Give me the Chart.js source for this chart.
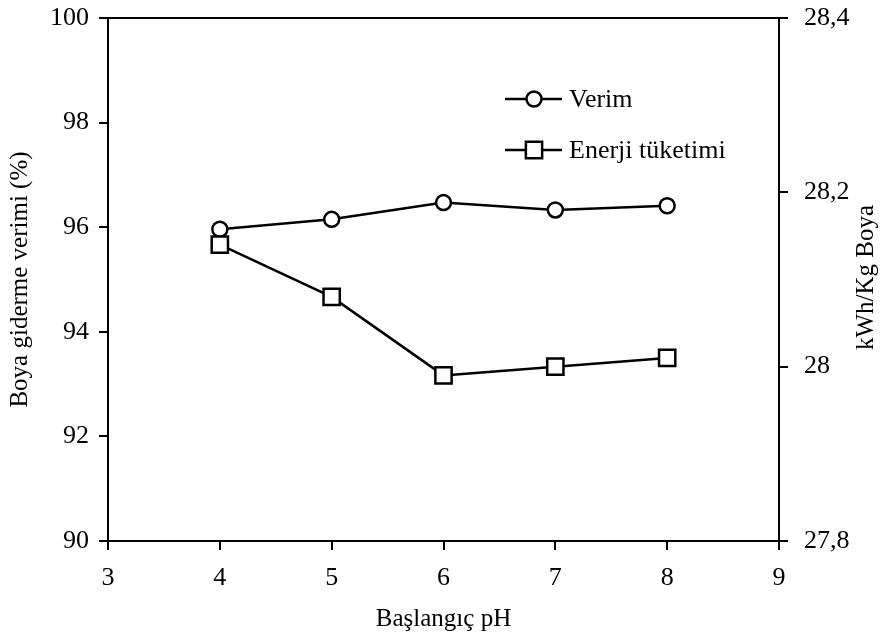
<!DOCTYPE html>
<html><head><meta charset="utf-8">
<script src="https://cdn.jsdelivr.net/npm/chart.js@4/dist/chart.umd.min.js"></script>
<style>html,body{margin:0;padding:0;background:#fff}#wrap{width:886px;height:642px}</style>
</head><body><div id="wrap"><canvas id="c" width="886" height="642"></canvas></div>
<script>
const phValues = [4, 5, 6, 7, 8];
const verim = [95.96, 96.15, 96.47, 96.33, 96.41];
const enerji = [28.14, 28.08, 27.99, 28.00, 28.01];
const xTicks = [3, 4, 5, 6, 7, 8, 9];
const leftTicks = [90, 92, 94, 96, 98, 100];
const rightTicks = [27.8, 28.0, 28.2, 28.4];
const xTitle = 'Başlangıç pH';
const leftTitle = 'Boya giderme verimi (%)';
const rightTitle = 'kWh/Kg Boya';
const legendLabels = ['Verim', 'Enerji tüketimi'];

const FONT = 'Liberation Serif';
const FS = 26;
const TFS = 25;

const fmtComma = v => {
  const r = Math.round(v * 10) / 10;
  return (Number.isInteger(r) ? String(r) : r.toFixed(1)).replace('.', ',');
};

const boxPlugin = {
  id: 'boxAndLegend',
  afterDatasetsDraw(chart) {
    const ctx = chart.ctx, a = chart.chartArea;
    ctx.save();
    ctx.strokeStyle = '#000';
    ctx.lineWidth = 2;
    ctx.beginPath();
    ctx.moveTo(a.left - 1, a.top);
    ctx.lineTo(a.right + 1, a.top);
    ctx.stroke();
    ctx.fillStyle = '#000';
    ctx.font = TFS + 'px "' + FONT + '"';
    ctx.textAlign = 'center';
    ctx.textBaseline = 'middle';
    ctx.translate(866, (a.top + a.bottom) / 2 - 2);
    ctx.rotate(-Math.PI / 2);
    ctx.fillText(rightTitle, 0, 0);
    ctx.restore();
    ctx.save();
    const order = [1, 0];
    order.forEach((dsIndex, i) => {
      const ds = chart.data.datasets[dsIndex];
      const y = 99 + i * 51;
      ctx.strokeStyle = '#000';
      ctx.lineWidth = 2.5;
      ctx.beginPath();
      ctx.moveTo(505, y);
      ctx.lineTo(562, y);
      ctx.stroke();
      ctx.fillStyle = '#fff';
      ctx.strokeStyle = '#000';
      ctx.lineWidth = ds.pointBorderWidth;
      ctx.beginPath();
      if (ds.pointStyle === 'circle') {
        ctx.arc(534, y, ds.pointRadius, 0, Math.PI * 2);
      } else {
        const h = ds.pointRadius * Math.SQRT1_2;
        ctx.rect(534 - h, y - h, 2 * h, 2 * h);
      }
      ctx.fill();
      ctx.stroke();
      ctx.fillStyle = '#000';
      ctx.font = FS + 'px "' + FONT + '"';
      ctx.textAlign = 'left';
      ctx.textBaseline = 'middle';
      ctx.fillText(legendLabels[i], 569, y + 1);
    });
    ctx.restore();
  }
};

const tickGrid = { drawOnChartArea: false, drawTicks: true, tickLength: 9, color: '#000', lineWidth: 2 };
const border = { display: true, color: '#000', width: 2 };
const tickFont = { family: FONT, size: FS };
const titleFont = { family: FONT, size: TFS };

const fitV = w => s => { s.width = w; s.paddingTop = 0; s.paddingBottom = 0; };

new Chart(document.getElementById('c'), {
  type: 'line',
  data: {
    datasets: [
      {
        label: legendLabels[1],
        data: phValues.map((x, i) => ({ x, y: enerji[i] })),
        yAxisID: 'y1',
        borderColor: '#000', borderWidth: 2.5,
        pointStyle: 'rect', pointRadius: 11.5, pointBorderWidth: 2.5,
        pointBackgroundColor: '#fff', pointBorderColor: '#000',
        tension: 0, order: 0
      },
      {
        label: legendLabels[0],
        data: phValues.map((x, i) => ({ x, y: verim[i] })),
        yAxisID: 'y',
        borderColor: '#000', borderWidth: 2.5,
        pointStyle: 'circle', pointRadius: 7.5, pointBorderWidth: 2.5,
        pointBackgroundColor: '#fff', pointBorderColor: '#000',
        tension: 0, order: 1
      }
    ]
  },
  options: {
    responsive: false,
    devicePixelRatio: 1,
    animation: false,
    layout: { padding: { top: 18, left: 0, right: 0, bottom: 0 } },
    plugins: { legend: { display: false }, tooltip: { enabled: false } },
    scales: {
      x: {
        type: 'linear', position: 'bottom', min: 3, max: 9,
        afterBuildTicks: s => { s.ticks = xTicks.map(v => ({ value: v })); },
        afterFit: s => { s.height = 101; s.paddingLeft = 0; s.paddingRight = 0; },
        ticks: { color: '#000', font: tickFont, padding: 13, maxRotation: 0, autoSkip: false },
        grid: tickGrid, border: border,
        title: { display: true, text: xTitle, color: '#000', font: titleFont, padding: { top: 0, bottom: 8 } }
      },
      y: {
        type: 'linear', position: 'left', min: 90, max: 100,
        afterBuildTicks: s => { s.ticks = leftTicks.map(v => ({ value: v })); },
        afterFit: fitV(108),
        ticks: { color: '#000', font: tickFont, padding: 10 },
        grid: tickGrid, border: border,
        title: { display: true, text: leftTitle, color: '#000', font: titleFont, padding: { top: 5, bottom: 0 } }
      },
      y1: {
        type: 'linear', position: 'right', min: 27.8, max: 28.4,
        afterBuildTicks: s => { s.ticks = rightTicks.map(v => ({ value: v })); },
        afterFit: fitV(107),
        ticks: { color: '#000', font: tickFont, padding: 16, callback: v => fmtComma(v) },
        grid: tickGrid, border: border,
        title: { display: false }
      }
    }
  },
  plugins: [boxPlugin]
});
</script>
</body></html>
